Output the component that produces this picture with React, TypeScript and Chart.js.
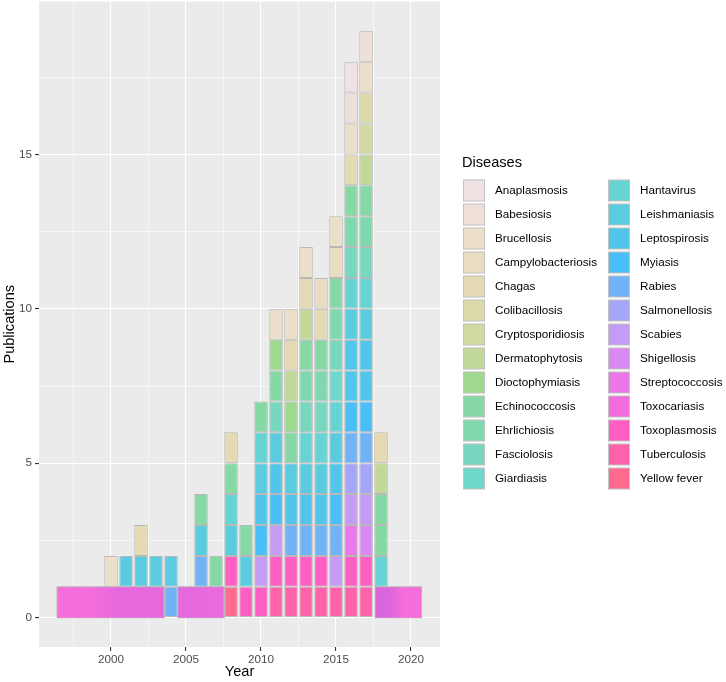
import React, { useEffect, useRef } from 'react';
import { Chart, registerables } from 'chart.js';

Chart.register(...registerables);

const FONT = '"Liberation Sans", Arial, Helvetica, sans-serif';

// Legend levels (ggplot factor order) and their rendered colours
const diseases = [
  'Anaplasmosis', 'Babesiosis', 'Brucellosis', 'Campylobacteriosis', 'Chagas',
  'Colibacillosis', 'Cryptosporidiosis', 'Dermatophytosis', 'Dioctophymiasis',
  'Echinococcosis', 'Ehrlichiosis', 'Fasciolosis', 'Giardiasis', 'Hantavirus',
  'Leishmaniasis', 'Leptospirosis', 'Myiasis', 'Rabies', 'Salmonellosis',
  'Scabies', 'Shigellosis', 'Streptococcosis', 'Toxocariasis', 'Toxoplasmosis',
  'Tuberculosis', 'Yellow fever',
];
const diseaseColors = [
  '#F0E1E3', '#EEE0D9', '#ECDFC9', '#E9DDC1', '#E4DBB4',
  '#DCD9AA', '#D2D9A3', '#C1D898', '#9FD98E',
  '#86D8A5', '#80D8AE', '#78D8BF', '#6FD7CB', '#66D4D4',
  '#5BCCDF', '#52C6EA', '#49BEF7', '#72B3F8', '#A6A6F8',
  '#C49BF5', '#D98AF2', '#EA78E8', '#F26CDC', '#FF5FC3',
  '#FF62A8', '#FF6A8E',
];

// Publications per year, listed bottom to top (one entry = one publication)
const years = [
  1997, 1998, 1999, 2000, 2001, 2002, 2003, 2004, 2005, 2006, 2007, 2008,
  2009, 2010, 2011, 2012, 2013, 2014, 2015, 2016, 2017, 2018, 2019, 2020,
];
const cellsByYear: string[][] = [
  [],
  [],
  [],
  ['Brucellosis'],
  ['Leishmaniasis'],
  ['Leishmaniasis', 'Chagas'],
  ['Leishmaniasis'],
  ['Rabies', 'Leishmaniasis'],
  [],
  ['Rabies', 'Leishmaniasis', 'Echinococcosis'],
  ['Echinococcosis'],
  ['Yellow fever', 'Toxoplasmosis', 'Leishmaniasis', 'Hantavirus', 'Echinococcosis', 'Chagas'],
  ['Toxoplasmosis', 'Leishmaniasis', 'Echinococcosis'],
  ['Toxoplasmosis', 'Scabies', 'Myiasis', 'Leptospirosis', 'Leishmaniasis', 'Hantavirus', 'Echinococcosis'],
  ['Tuberculosis', 'Toxoplasmosis', 'Scabies', 'Myiasis', 'Leptospirosis', 'Leishmaniasis',
    'Fasciolosis', 'Echinococcosis', 'Dioctophymiasis', 'Brucellosis'],
  ['Tuberculosis', 'Toxoplasmosis', 'Rabies', 'Leptospirosis', 'Leishmaniasis', 'Echinococcosis',
    'Dioctophymiasis', 'Dermatophytosis', 'Chagas', 'Brucellosis'],
  ['Tuberculosis', 'Toxoplasmosis', 'Rabies', 'Leptospirosis', 'Leishmaniasis', 'Hantavirus',
    'Fasciolosis', 'Ehrlichiosis', 'Echinococcosis', 'Dermatophytosis', 'Chagas', 'Brucellosis'],
  ['Tuberculosis', 'Toxoplasmosis', 'Rabies', 'Leptospirosis', 'Leishmaniasis', 'Hantavirus',
    'Fasciolosis', 'Ehrlichiosis', 'Echinococcosis', 'Chagas', 'Campylobacteriosis'],
  ['Tuberculosis', 'Scabies', 'Rabies', 'Myiasis', 'Leptospirosis', 'Leishmaniasis', 'Hantavirus',
    'Giardiasis', 'Fasciolosis', 'Ehrlichiosis', 'Echinococcosis', 'Campylobacteriosis', 'Brucellosis'],
  ['Tuberculosis', 'Toxoplasmosis', 'Streptococcosis', 'Scabies', 'Salmonellosis', 'Rabies', 'Myiasis',
    'Leptospirosis', 'Leptospirosis', 'Leishmaniasis', 'Hantavirus', 'Fasciolosis', 'Ehrlichiosis',
    'Echinococcosis', 'Chagas', 'Brucellosis', 'Babesiosis', 'Anaplasmosis'],
  ['Tuberculosis', 'Toxoplasmosis', 'Shigellosis', 'Scabies', 'Salmonellosis', 'Rabies', 'Myiasis',
    'Leptospirosis', 'Leptospirosis', 'Leishmaniasis', 'Hantavirus', 'Fasciolosis', 'Ehrlichiosis',
    'Echinococcosis', 'Dermatophytosis', 'Cryptosporidiosis', 'Colibacillosis', 'Brucellosis', 'Babesiosis'],
  ['Hantavirus', 'Echinococcosis', 'Echinococcosis', 'Dermatophytosis', 'Chagas'],
  [],
  [],
];

// Multi-year publications drawn as wide bars on the bottom row
const spanStart = [1996.4, 2004.45, 2017.6];
const spanEnd = [2003.55, 2007.55, 2020.7];
const spanDisease = ['Toxocariasis', 'Toxocariasis', 'Toxocariasis'];
// shading of the overlapping translucent bars inside each span (left, right)
const spanShadeLeft = ['#F46DDA', '#E468DE', '#DA66DB'];
const spanShadeRight = ['#E568DD', '#E86ADD', '#F46DDA'];

// Axis ticks and limits
const xMajorTicks = [2000, 2005, 2010, 2015, 2020];
const xMinorTicks = [1997.5, 2002.5, 2007.5, 2012.5, 2017.5];
const yMajorTicks = [0, 5, 10, 15];
const yMinorTicks = [2.5, 7.5, 12.5, 17.5];
const xLimits = [1995.2, 2021.93];
const yLimits = [-0.95, 19.95];

const CELL_BORDER = '#B9B9B9';

const colorOf = (d?: string) => {
  const i = d ? diseases.indexOf(d) : -1;
  return i >= 0 ? diseaseColors[i] : 'rgba(0,0,0,0)';
};

const panelBg = {
  id: 'panelBg',
  beforeDraw(chart: any) {
    const { ctx, chartArea } = chart;
    const { left, top, right, bottom } = chartArea;
    ctx.save();
    ctx.fillStyle = '#EBEBEB';
    ctx.fillRect(left, top, right - left, bottom - top);
    ctx.restore();
  },
};

const ggLegend = {
  id: 'ggLegend',
  afterDraw(chart: any) {
    const ctx = chart.ctx;
    ctx.save();
    ctx.textAlign = 'left';
    ctx.textBaseline = 'middle';
    ctx.fillStyle = '#000000';
    ctx.font = `14.6px ${FONT}`;
    ctx.fillText('Diseases', 462, 163);
    ctx.font = `11.7px ${FONT}`;
    const perCol = Math.ceil(diseases.length / 2);
    diseases.forEach((d, i) => {
      const col = Math.floor(i / perCol);
      const row = i % perCol;
      const kx = col === 0 ? 463 : 608;
      const ky = 179.5 + row * 24;
      ctx.fillStyle = '#F2F2F2';
      ctx.fillRect(kx, ky, 22, 22);
      ctx.fillStyle = diseaseColors[i];
      ctx.fillRect(kx + 0.5, ky + 0.5, 21, 21);
      ctx.strokeStyle = '#C2C2C2';
      ctx.lineWidth = 1;
      ctx.strokeRect(kx + 0.5, ky + 0.5, 21, 21);
      ctx.fillStyle = '#000000';
      ctx.fillText(d, kx + 32, ky + 11.5);
    });
    ctx.restore();
  },
};

const isMajor = (v: number, majors: number[]) => majors.indexOf(v) >= 0;

export default function App() {
  const ref = useRef<HTMLCanvasElement | null>(null);

  useEffect(() => {
    if (!ref.current) return;

    const covered = (y: number) => spanStart.some((s, i) => s < y && y < spanEnd[i]);

    const baseDataset: any = {
      type: 'bar',
      label: 'base',
      stack: 'pubs',
      data: years.filter(covered).map((y) => ({ x: y, y: 1 })),
      backgroundColor: 'rgba(0,0,0,0)',
      borderWidth: 0,
      barPercentage: 0.9,
      categoryPercentage: 1,
    };

    const maxLayers = Math.max(...cellsByYear.map((c) => c.length));
    const layerDatasets: any[] = [];
    for (let k = 0; k < maxLayers; k++) {
      layerDatasets.push({
        type: 'bar',
        label: `layer ${k + 1}`,
        stack: 'pubs',
        data: years
          .map((y, i) => ({ x: y, y: 1, d: cellsByYear[i][k] }))
          .filter((p) => !!p.d),
        backgroundColor: (c: any) => colorOf(c.raw && c.raw.d),
        borderColor: CELL_BORDER,
        borderWidth: 1,
        borderSkipped: false,
        barPercentage: 0.9,
        categoryPercentage: 1,
      });
    }

    const spanFill = (i: number) => (c: any) => {
      const chart = c.chart;
      const xs = chart && chart.scales && chart.scales.x;
      if (!xs || !chart.chartArea) return colorOf(spanDisease[i]);
      const x0 = xs.getPixelForValue(spanStart[i]);
      const x1 = xs.getPixelForValue(spanEnd[i]);
      if (!isFinite(x0) || !isFinite(x1) || x1 <= x0) return colorOf(spanDisease[i]);
      const g = chart.ctx.createLinearGradient(x0, 0, x1, 0);
      g.addColorStop(0, spanShadeLeft[i]);
      g.addColorStop(0.3, spanShadeLeft[i]);
      g.addColorStop(0.6, spanShadeRight[i]);
      g.addColorStop(1, spanShadeRight[i]);
      return g;
    };

    const spanDatasets: any[] = [];
    spanStart.forEach((s, i) => {
      spanDatasets.push({
        type: 'line',
        label: `span ${i + 1}`,
        stack: `span${i}`,
        data: [
          { x: s, y: 0 },
          { x: s, y: 1 },
          { x: spanEnd[i], y: 1 },
          { x: spanEnd[i], y: 0 },
        ],
        fill: 'origin',
        backgroundColor: spanFill(i),
        borderColor: CELL_BORDER,
        borderWidth: 1,
        pointRadius: 0,
        tension: 0,
      });
      spanDatasets.push({
        type: 'line',
        label: `span ${i + 1} base`,
        stack: `spanb${i}`,
        data: [
          { x: s, y: 0 },
          { x: spanEnd[i], y: 0 },
        ],
        fill: false,
        borderColor: CELL_BORDER,
        borderWidth: 1,
        pointRadius: 0,
        tension: 0,
      });
    });

    const xTicks = [...xMajorTicks, ...xMinorTicks].sort((a, b) => a - b);
    const yTicks = [...yMajorTicks, ...yMinorTicks].sort((a, b) => a - b);

    const chart = new Chart(ref.current, {
      type: 'bar',
      data: { datasets: [baseDataset, ...layerDatasets, ...spanDatasets] },
      options: {
        animation: false,
        responsive: false,
        devicePixelRatio: 1,
        events: [],
        layout: { padding: { left: 0, right: 286, top: 1.5, bottom: 0 } },
        plugins: {
          legend: { display: false },
          tooltip: { enabled: false },
        },
        scales: {
          x: {
            type: 'linear',
            min: xLimits[0],
            max: xLimits[1],
            bounds: 'data',
            offset: false,
            stacked: true,
            afterBuildTicks: (scale: any) => {
              scale.ticks = xTicks.map((v) => ({ value: v }));
            },
            afterFit: (scale: any) => {
              scale.height = 35;
              scale.paddingLeft = 0;
              scale.paddingRight = 0;
            },
            grid: {
              offset: false,
              color: '#FFFFFF',
              lineWidth: (c: any) => (c.tick && isMajor(c.tick.value, xMajorTicks) ? 1.1 : 0.55),
              tickColor: (c: any) => (c.tick && isMajor(c.tick.value, xMajorTicks) ? '#333333' : 'rgba(0,0,0,0)'),
              tickLength: 4,
              tickWidth: 1.1,
            },
            border: { display: false },
            ticks: {
              autoSkip: false,
              maxRotation: 0,
              minRotation: 0,
              padding: 2,
              color: '#4D4D4D',
              font: { family: FONT, size: 11.7 },
              callback: (v: any) => (isMajor(Number(v), xMajorTicks) ? String(v) : ''),
            },
            title: {
              display: true,
              text: 'Year',
              color: '#000000',
              font: { family: FONT, size: 14.6 },
              padding: { top: 0, bottom: 1.5 },
            },
          },
          y: {
            type: 'linear',
            min: yLimits[0],
            max: yLimits[1],
            bounds: 'data',
            stacked: true,
            afterBuildTicks: (scale: any) => {
              scale.ticks = yTicks.map((v) => ({ value: v }));
            },
            afterFit: (scale: any) => {
              scale.width = 39;
              scale.paddingTop = 0;
              scale.paddingBottom = 0;
            },
            grid: {
              color: '#FFFFFF',
              lineWidth: (c: any) => (c.tick && isMajor(c.tick.value, yMajorTicks) ? 1.1 : 0.55),
              tickColor: (c: any) => (c.tick && isMajor(c.tick.value, yMajorTicks) ? '#333333' : 'rgba(0,0,0,0)'),
              tickLength: 4,
              tickWidth: 1.1,
            },
            border: { display: false },
            ticks: {
              autoSkip: false,
              padding: 3,
              color: '#4D4D4D',
              font: { family: FONT, size: 11.7 },
              callback: (v: any) => (isMajor(Number(v), yMajorTicks) ? String(v) : ''),
            },
            title: {
              display: true,
              text: 'Publications',
              color: '#000000',
              font: { family: FONT, size: 14.6 },
              padding: { top: 1, bottom: 0 },
            },
          },
        },
      } as any,
      plugins: [panelBg, ggLegend],
    });

    return () => chart.destroy();
  }, []);

  return (
    <div style={{ position: 'absolute', left: 0, top: 0, width: 726, height: 682, background: '#FFFFFF' }}>
      <canvas ref={ref} width={726} height={682} style={{ display: 'block' }} />
    </div>
  );
}
